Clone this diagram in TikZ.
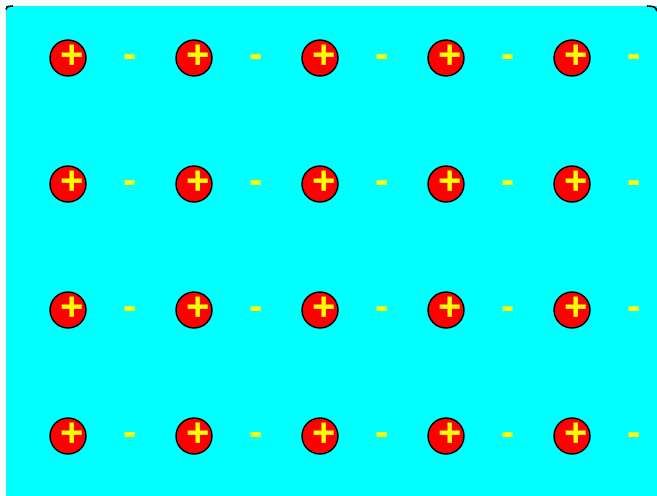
\documentclass[tikz,border=0pt]{standalone}
\usepackage{fontspec}
\setmainfont{Liberation Sans}
\usetikzlibrary{calc,positioning}
\definecolor{bgCyan}{RGB}{0,255,255}
\definecolor{ionRed}{RGB}{255,0,0}
\definecolor{signYellow}{RGB}{255,255,0}
\tikzset{
  ion/.style={circle, draw=black, line width=1.4pt, fill=ionRed, minimum size=36pt, inner sep=0pt},
  plusSign/.style={text=signYellow, font=\bfseries\fontsize{40}{40}\selectfont, inner sep=0pt},
  minusSign/.style={text=signYellow, font=\bfseries\fontsize{40}{40}\selectfont, inner sep=0pt},
  cornerLine/.style={draw=black, line width=1.6pt}
}

\begin{document}
\begin{tikzpicture}[x=1pt,y=-1pt]
\useasboundingbox (0,0) rectangle (657,496);

% background
\fill[bgCyan] (6,6) rectangle (657,496);
\draw[cornerLine] (6,9.5) .. controls (6.5,6.5) .. (13,6);
\draw[cornerLine] (647,6) .. controls (655,6.5) .. (657,11);

% lattice of ions and electrons
\foreach \row in {0,...,3}{
  \foreach \col in {0,...,4}{
    \node[ion] (ion-\row-\col) at ({68+126*\col},{58+126*\row}) {};
    \node[plusSign] (plus-\row-\col) at ($(ion-\row-\col)+(4,-1)$) {+};
    \node[minusSign] (minus-\row-\col) at ($(ion-\row-\col)+(62,3)$) {-};
  }
}

\end{tikzpicture}
\end{document}
